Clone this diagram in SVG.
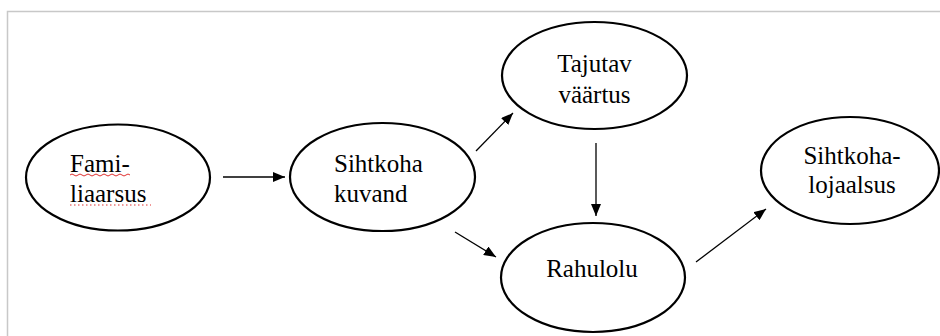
<svg xmlns="http://www.w3.org/2000/svg" width="940" height="336" viewBox="0 0 940 336">
<style>
.shape{fill:#fff;stroke:#000;stroke-width:2.2}
.lbl{font-family:'Liberation Serif','Times New Roman',serif;font-size:25px;fill:#000}
.conn{stroke:#000;stroke-width:1.3;marker-end:url(#ah)}
.sp{fill:none;stroke:#e03030;stroke-width:1}
</style>
<defs>
<marker id="ah" viewBox="0 0 12 10" refX="12" refY="5" markerWidth="12" markerHeight="10" markerUnits="userSpaceOnUse" orient="auto">
<path d="M0,0 L12,5 L0,10 Z" fill="#000"/>
</marker>
</defs>
<rect x="0" y="0" width="940" height="336" fill="#fff"/>
<path d="M7.5,336 V11.5 H940" fill="none" stroke="#c8c8c8" stroke-width="1.5"/>
<g id="familiaarsus">
<ellipse class="shape" cx="118" cy="177.5" rx="92" ry="53"/>
<text class="lbl" x="70" y="172">Fami-</text>
<text class="lbl" x="70" y="202">liaarsus</text>
<path class="sp" d="M70,175 q2,-2 4,0 t4,0 t4,0 t4,0 t4,0 t4,0 t4,0 t4,0 t4,0 t4,0 t4,0 t4,0 t4,0 t4,0 t4,0"/>
<path class="sp" d="M70,205 H151" stroke-dasharray="1.5 2.5"/>
</g>
<g id="sihtkoha-kuvand">
<ellipse class="shape" cx="382.5" cy="177" rx="92.5" ry="54"/>
<text class="lbl" x="334" y="172">Sihtkoha</text>
<text class="lbl" x="334" y="202">kuvand</text>
</g>
<g id="tajutav-vaartus">
<ellipse class="shape" cx="594.5" cy="75.5" rx="92.5" ry="53.5"/>
<text class="lbl" x="594.5" y="72" text-anchor="middle">Tajutav</text>
<text class="lbl" x="594.5" y="103" text-anchor="middle">väärtus</text>
</g>
<g id="rahulolu">
<ellipse class="shape" cx="593" cy="277.5" rx="92" ry="54.5"/>
<text class="lbl" x="592" y="277" text-anchor="middle">Rahulolu</text>
</g>
<g id="sihtkoha-lojaalsus">
<ellipse class="shape" cx="850" cy="170.5" rx="89" ry="53.5"/>
<text class="lbl" x="852" y="164" text-anchor="middle">Sihtkoha-</text>
<text class="lbl" x="852" y="193" text-anchor="middle">lojaalsus</text>
</g>
<g id="connectors">
<line class="conn" x1="223" y1="177" x2="285" y2="177"/>
<line class="conn" x1="476" y1="151" x2="513" y2="113"/>
<line class="conn" x1="455" y1="232" x2="496" y2="257"/>
<line class="conn" x1="596" y1="143" x2="596" y2="216"/>
<line class="conn" x1="696" y1="262" x2="766" y2="209"/>
</g>
</svg>
